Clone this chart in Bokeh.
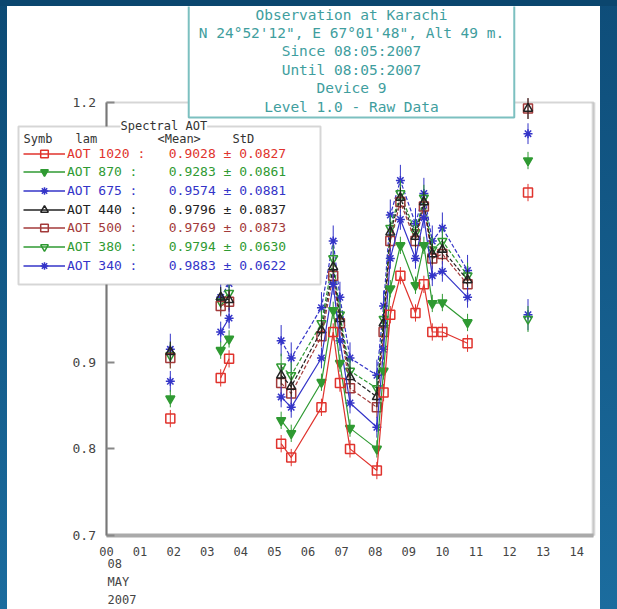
from bokeh.plotting import figure
from bokeh.models import (Range1d, FixedTicker, Label, Legend, LegendItem, BoxAnnotation,
                          PrintfTickFormatter, GlobalInlineStyleSheet)
from bokeh.core.properties import value
from bokeh.embed import file_html
from bokeh.resources import INLINE

# ---------------- data ----------------
hours = [1.9, 3.4, 3.65, 5.2, 5.5, 6.4, 6.75, 6.95, 7.25, 8.05, 8.25, 8.45,
         8.75, 9.2, 9.45, 9.7, 10.0, 10.75, 12.55]

aot_1020 = [0.835, 0.882, 0.904, 0.806, 0.790, 0.848, 0.935, 0.876, 0.800, 0.775,
            0.865, 0.955, 1.000, 0.957, 0.990, 0.935, 0.935, 0.922, 1.096]
aot_870 = [0.858, 0.914, 0.927, 0.833, 0.818, 0.877, 0.960, 0.899, 0.824, 0.800,
           0.890, 0.985, 1.035, 0.989, 1.035, 0.968, 0.969, 0.946, 1.133]
aot_675 = [0.878, 0.935, 0.951, 0.860, 0.848, 0.905, 0.990, 0.925, 0.853, 0.825,
           0.915, 1.020, 1.065, 1.020, 1.067, 1.000, 1.005, 0.975, 1.164]
aot_440 = [0.912, 0.975, 0.972, 0.885, 0.872, 0.937, 1.010, 0.950, 0.883, 0.860,
           0.945, 1.050, 1.090, 1.045, 1.085, 1.025, 1.030, 0.995, 1.193]
aot_500 = [0.905, 0.965, 0.970, 0.876, 0.864, 0.930, 1.000, 0.945, 0.870, 0.848,
           0.935, 1.040, 1.085, 1.040, 1.080, 1.020, 1.025, 0.990, 1.193]
aot_380 = [0.908, 0.970, 0.980, 0.895, 0.885, 0.945, 1.020, 0.955, 0.890, 0.870,
           0.950, 1.055, 1.095, 1.050, 1.090, 1.030, 1.040, 1.000, 0.950]
aot_340 = [0.915, 0.975, 0.991, 0.925, 0.905, 0.963, 1.040, 0.975, 0.905, 0.885,
           0.965, 1.070, 1.110, 1.060, 1.095, 1.040, 1.055, 1.006, 0.955]

# typical error-bar half heights per wavelength
err_1020, err_870, err_675, err_440, err_500, err_380, err_340 = 0.010, 0.010, 0.012, 0.012, 0.012, 0.015, 0.018

legend_names = ["AOT 1020 :", "AOT 870 :", "AOT 675 :", "AOT 440 :", "AOT 500 :", "AOT 380 :", "AOT 340 :"]
legend_means = ["0.9028", "0.9283", "0.9574", "0.9796", "0.9769", "0.9794", "0.9883"]
legend_stds = ["0.0827", "0.0861", "0.0881", "0.0837", "0.0873", "0.0630", "0.0622"]
legend_header = ["Symb", "lam", "<Mean>", "StD"]

y_ticks = [0.7, 0.8, 0.9, 1.0, 1.1, 1.2]
x_ticks = list(range(15))
x_tick_labels = ["00", "01", "02", "03", "04", "05", "06", "07", "08", "09", "10", "11", "12", "13", "14"]
date_lines = ["08", "MAY", "2007"]

title_lines = ["Observation at Karachi",
               "N 24\u00b052'12\", E 67\u00b001'48\", Alt 49 m.",
               "Since 08:05:2007",
               "Until 08:05:2007",
               "Device 9",
               "Level 1.0 - Raw Data"]

# ---------------- layout (window pixels) ----------------
WX0, WY0 = 7, 6            # where the figure sits in the window
FW, FH = 593, 603          # figure size
PL, PR, PT, PB = 106, 593, 102, 535   # plot box edges in the window
HX0, HX1 = 0.0, 14.5
VY0, VY1 = 0.7, 1.2
kx = (PR - PL) / (HX1 - HX0)
ky = (PB - PT) / (VY1 - VY0)
x_start = HX0 - (PL - WX0) / kx
x_end = HX0 + (WX0 + FW - PL) / kx
y_end = VY1 + (PT - WY0) / ky
y_start = VY0 - (WY0 + FH - PB) / ky
MONO = "DejaVu Sans Mono"


def dx(wx):
    return HX0 + (wx - PL) / kx


def dy(wy):
    return VY1 - (wy - PT) / ky


css = """
html { height: 100%; background:
  linear-gradient(#0b466e, #0b466e) left top / 100% 6px no-repeat,
  linear-gradient(#0c4a74, #1b6c9e) left top / 7px 100% no-repeat,
  linear-gradient(#0e4d79, #1b6c9e) right top / 17px 100% no-repeat,
  #ffffff; }
body { background: transparent; padding: 6px 0 0 7px !important; margin: 0 !important; box-sizing: border-box; overflow: hidden; }
"""

p = figure(width=FW, height=FH, x_range=Range1d(x_start, x_end), y_range=Range1d(y_start, y_end),
           output_backend="svg", toolbar_location=None, title=None,
           x_axis_location="above", y_axis_location="right",
           min_border_left=0, min_border_right=0, min_border_top=0, min_border_bottom=0,
           background_fill_color="white", border_fill_color="white")
p.stylesheets = [GlobalInlineStyleSheet(css=css)]
p.grid.visible = False
p.outline_line_color = None

# y axis, drawn at hour 0 (labels to its left)
p.yaxis.fixed_location = HX0
p.yaxis.bounds = (VY0, VY1)
p.yaxis.ticker = FixedTicker(ticks=y_ticks)
p.yaxis.formatter = PrintfTickFormatter(format="%.1f")
p.yaxis.major_tick_in = 0
p.yaxis.major_tick_out = 8
p.yaxis.minor_tick_line_color = None
p.yaxis.axis_line_color = "#777777"
p.yaxis.axis_line_width = 2
p.yaxis.major_tick_line_color = "#888888"
p.yaxis.major_tick_line_width = 2
p.yaxis.major_label_text_font = MONO
p.yaxis.major_label_text_font_size = "13px"
p.yaxis.major_label_text_color = "#444444"
p.yaxis.major_label_standoff = -42

# x axis, drawn at AOT 0.7 (labels below it)
p.xaxis.fixed_location = VY0
p.xaxis.bounds = (HX0, HX1)
p.xaxis.ticker = FixedTicker(ticks=x_ticks)
p.xaxis.major_label_overrides = {t: lab for t, lab in zip(x_ticks, x_tick_labels)}
p.xaxis.major_tick_in = 0
p.xaxis.major_tick_out = 0
p.xaxis.minor_tick_line_color = None
p.xaxis.axis_line_color = "#aaaaaa"
p.xaxis.axis_line_width = 4
p.xaxis.major_label_text_font = MONO
p.xaxis.major_label_text_font_size = "12px"
p.xaxis.major_label_text_color = "#444444"
p.xaxis.major_label_standoff = -20

# plot box: thin top edge, thick light right edge
p.add_layout(BoxAnnotation(left=HX0, right=HX1, bottom=VY0, top=VY1, fill_alpha=0,
                           line_color="#777777", line_width=2, level="underlay"))
p.add_layout(BoxAnnotation(left=HX1, right=HX1, bottom=VY0, top=VY1, fill_alpha=0,
                           line_color="#aaaaaa", line_width=4, level="underlay"))


def broken(xs, ys, gap=1.0):
    ox, oy = [], []
    for i, (x, y) in enumerate(zip(xs, ys)):
        if i > 0 and x - xs[i - 1] > gap:
            ox.append(float("nan"))
            oy.append(float("nan"))
        ox.append(x)
        oy.append(y)
    return ox, oy


RED, GREEN, BLUE, BLACK, DRED = "#e0332d", "#2f9a32", "#3434c8", "#222222", "#a33a3a"

# key, values, err, color, marker, filled, dash  (drawing order: red on top)
series = [
    ("340", aot_340, err_340, BLUE, "asterisk", False, "4 2"),
    ("380", aot_380, err_380, GREEN, "inverted_triangle", False, "4 2"),
    ("500", aot_500, err_500, DRED, "square", False, "4 2"),
    ("440", aot_440, err_440, BLACK, "triangle", False, "4 2"),
    ("675", aot_675, err_675, BLUE, "asterisk", False, "solid"),
    ("870", aot_870, err_870, GREEN, "inverted_triangle", True, "solid"),
    ("1020", aot_1020, err_1020, RED, "square", False, "solid"),
]

handles = {}
for key, vals, err, col, mk, filled, dash in series:
    lx, ly = broken(hours, vals)
    p.line(lx, ly, line_color=col, line_width=1.2, line_dash=dash)
    p.segment(x0=hours, y0=[v - err for v in vals], x1=hours, y1=[v + err for v in vals],
              line_color=col, line_width=1)
    sc = p.scatter(hours, vals, marker=mk, size=9, line_color=col, line_width=1.5,
                   fill_color=col if filled else None)
    # solid sample line for the legend key (not drawn in the plot)
    key_line = p.line(lx, ly, line_color=col, line_width=1.5, visible=False)
    handles[key] = (key_line, sc, col)

# legend box, title text and header
LEG_L, LEG_R, LEG_T, LEG_B = 18, 320, 126, 284
p.add_layout(BoxAnnotation(left=dx(LEG_L), right=dx(LEG_R), top=dy(LEG_T), bottom=dy(LEG_B),
                           fill_color="white", fill_alpha=1.0, line_color="#777777", line_width=2))
p.add_layout(Label(x=dx(120), y=dy(125), text="Spectral AOT", text_align="left", text_baseline="middle",
                   text_font=MONO, text_font_size="12px", text_color="#333333",
                   background_fill_color="white", padding=0, level="overlay"))
for wx, txt in zip([23, 75, 157, 232], legend_header):
    p.add_layout(Label(x=dx(wx), y=dy(138), text=txt, text_align="left", text_baseline="middle",
                       text_font=MONO, text_font_size="12px", text_color="#333333", level="overlay"))

# one library legend per row, so that each row keeps its own colour
row_keys = ["1020", "870", "675", "440", "500", "380", "340"]
ROW0, PITCH, ROW_H = 153.0, 18.67, 19
for i, (k, nm, mn, sd) in enumerate(zip(row_keys, legend_names, legend_means, legend_stds)):
    key_line, sc, col = handles[k]
    cy = ROW0 + PITCH * i
    leg = Legend(items=[LegendItem(label=value(f"{nm:<13}{mn} \u00b1 {sd}"), renderers=[key_line, sc])],
                 location=(23 - WX0, (WY0 + FH) - (cy + ROW_H / 2)),
                 padding=0, spacing=0, margin=0, glyph_width=42, glyph_height=ROW_H,
                 label_height=ROW_H, label_standoff=2,
                 label_text_font=MONO, label_text_font_size="13px", label_text_color=col,
                 border_line_color=None, background_fill_alpha=0.0, inactive_fill_alpha=0.0)
    p.add_layout(leg, "center")

# observation title box
p.add_layout(Label(x=dx(351), y=dy(3), text="\n".join(title_lines), text_align="center",
                   text_baseline="top", text_font=MONO, text_font_size="14.5px", text_color="#3f9e9e",
                   text_line_height=1.15, background_fill_color="white",
                   border_line_color="#7cc0c0", border_line_width=2,
                   padding=dict(left=10, right=10, top=3, bottom=3), level="overlay"))

for wy, txt in zip([563, 581, 599], date_lines):
    p.add_layout(Label(x=dx(107), y=dy(wy), text=txt, text_align="left", text_baseline="middle",
                       text_font=MONO, text_font_size="12px", text_color="#444444"))

open("out.html", "w").write(file_html(p, INLINE))
